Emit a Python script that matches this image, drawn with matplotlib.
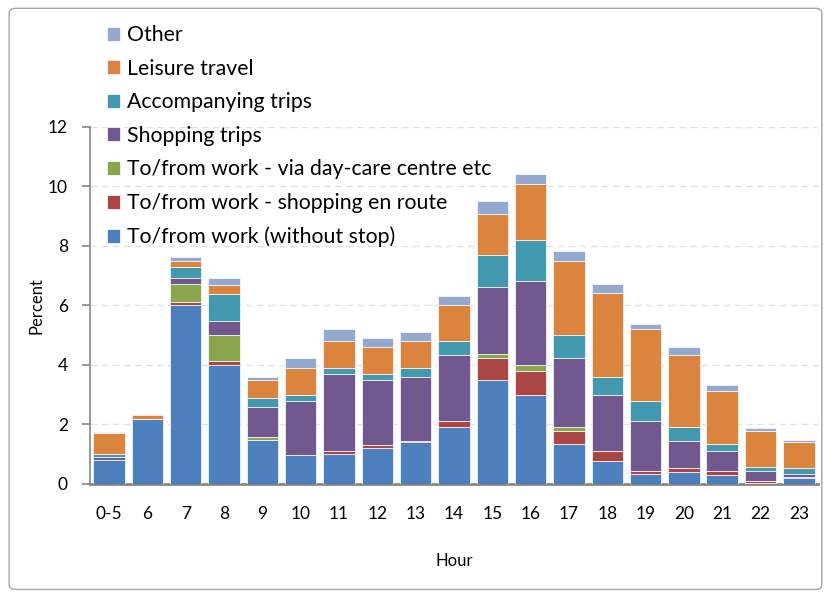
import numpy as np
import matplotlib.pyplot as plt
from matplotlib.patches import FancyBboxPatch

hours = ['0-5', '6', '7', '8', '9', '10', '11', '12', '13', '14', '15', '16',
         '17', '18', '19', '20', '21', '22', '23']

# percent of trips per hour, by purpose (stack order bottom -> top)
work_direct = [0.80, 2.20, 6.03, 4.00, 1.47, 0.98, 1.00, 1.20, 1.40, 1.90, 3.50, 3.00,
               1.33, 0.78, 0.32, 0.41, 0.31, 0.03, 0.20]
work_shopping = [0.02, 0.00, 0.10, 0.12, 0.02, 0.00, 0.10, 0.12, 0.05, 0.20, 0.72, 0.78,
                 0.46, 0.32, 0.11, 0.12, 0.12, 0.06, 0.02]
work_daycare = [0.00, 0.00, 0.58, 0.90, 0.10, 0.00, 0.00, 0.00, 0.00, 0.00, 0.16, 0.23,
                0.11, 0.02, 0.00, 0.00, 0.00, 0.00, 0.00]
shopping = [0.08, 0.00, 0.20, 0.46, 1.00, 1.81, 2.59, 2.16, 2.13, 2.23, 2.23, 2.81,
            2.33, 1.87, 1.68, 0.90, 0.67, 0.33, 0.10]
accompanying = [0.10, 0.00, 0.38, 0.92, 0.31, 0.20, 0.22, 0.20, 0.32, 0.48, 1.10, 1.37,
                0.78, 0.60, 0.69, 0.47, 0.23, 0.15, 0.21]
leisure = [0.72, 0.12, 0.21, 0.30, 0.58, 0.92, 0.90, 0.91, 0.90, 1.22, 1.38, 1.90,
           2.50, 2.82, 2.42, 2.43, 1.80, 1.22, 0.89]
other = [0.02, 0.02, 0.13, 0.21, 0.12, 0.31, 0.41, 0.30, 0.31, 0.28, 0.42, 0.33,
         0.33, 0.31, 0.17, 0.27, 0.20, 0.10, 0.06]

series = [
    ('To/from work (without stop)', work_direct, '#4D7FBC'),
    ('To/from work - shopping en route', work_shopping, '#AA4643'),
    ('To/from work - via day-care centre etc', work_daycare, '#89A54E'),
    ('Shopping trips', shopping, '#71588F'),
    ('Accompanying trips', accompanying, '#4198AF'),
    ('Leisure travel', leisure, '#DB843D'),
    ('Other', other, '#93A9CF'),
]

plt.rcParams['font.family'] = ['Lato', 'DejaVu Sans']

fig = plt.figure(figsize=(8.31, 5.96), dpi=100)
ax = fig.add_axes([0.1083, 0.188, 0.876, 0.599])

# rounded grey border around the chart
border = FancyBboxPatch((0.011, 0.011), 0.978, 0.975, boxstyle='round,pad=0,rounding_size=0.008',
                        transform=fig.transFigure, facecolor='none', edgecolor='#A6A6A6',
                        linewidth=1.0)
fig.patches.append(border)

x = np.arange(len(hours))
bottom = np.zeros(len(hours))
handles = []
for label, vals, color in series:
    vals = np.array(vals)
    b = ax.bar(x, vals, width=0.82, bottom=bottom, color=color, edgecolor='white',
               linewidth=0.5, label=label, zorder=3)
    handles.append(b)
    bottom += vals

ax.set_xlim(-0.5, len(hours) - 0.5)
ax.set_ylim(0, 12)
ax.set_yticks(np.arange(0, 13, 2))
ax.set_xticks(x)
ax.set_xticklabels(hours)
ax.tick_params(axis='x', length=0, pad=16, labelsize=12.5)
ax.tick_params(axis='y', length=6, width=1.2, color='#868686', pad=10, labelsize=12.5)

ax.grid(axis='y', linestyle=(0, (5, 3)), color='#E3E3E3', linewidth=1.0, zorder=0)
for s in ('top', 'right'):
    ax.spines[s].set_visible(False)
for s in ('left', 'bottom'):
    ax.spines[s].set_color('#868686')
ax.spines['left'].set_linewidth(1.2)
ax.spines['bottom'].set_linewidth(2.0)

ax.set_xlabel('Hour', fontsize=12, labelpad=22)
ax.set_ylabel('Percent', fontsize=12, labelpad=2)

fig.legend(handles[::-1], [s[0] for s in series][::-1], loc='upper left',
           bbox_to_anchor=(0.1285, 0.958), frameon=False, fontsize=15.3,
           handlelength=0.63, handleheight=0.63, handletextpad=0.3,
           labelspacing=0.64, borderpad=0, borderaxespad=0)

fig.savefig('out.png', dpi=100)
